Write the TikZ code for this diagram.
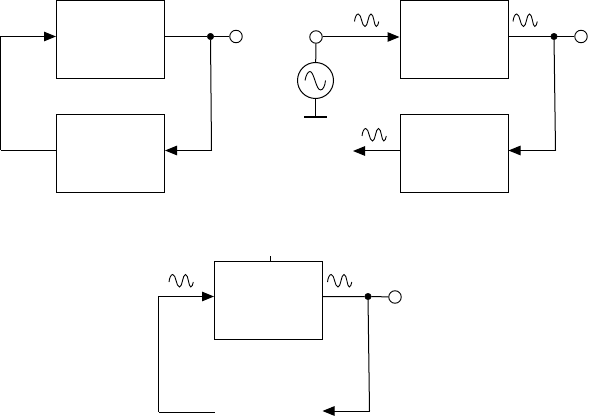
\documentclass[tikz,border=0pt]{standalone}
\usepackage{xcolor}
\usetikzlibrary{arrows.meta}

\tikzset{
    blockbox/.style={
        draw,
        line width=1pt,
        minimum width=108pt,
        minimum height=78pt,
        inner sep=0pt
    },
    wire/.style={line width=1pt},
    feed/.style={line width=1pt, -{Triangle[length=12pt,width=9.5pt]}},
    opendot/.style={draw, circle, fill=white, line width=0.9pt, minimum size=12.5pt, inner sep=0pt},
    joindot/.style={draw, circle, fill=black, minimum size=6.5pt, inner sep=0pt},
    sourcedot/.style={draw, circle, line width=1pt, minimum size=36pt, inner sep=0pt},
    wavelet/.pic={
        \draw[line width=0.9pt] (-12,1.5) .. controls (-11.5,-3) and (-10,-6) .. (-8.2,-6)
            .. controls (-5,-6) and (-4.8,6.5) .. (-1.5,6.5)
            .. controls (1.5,6.5) and (1.5,-6) .. (4.5,-6)
            .. controls (7.5,-6) and (7.5,6.5) .. (9.8,6.5)
            .. controls (11,6.5) and (11.8,4) .. (12.3,1.5);
    }
}

\begin{document}
\begin{tikzpicture}[x=1pt,y=-1pt]
    \useasboundingbox (0,0) rectangle (589,417);

    % left loop
    \node[blockbox] (ampA) at (110.5,39.5) {};
    \node[blockbox] (netA) at (110.5,153.5) {};
    \node[joindot] (dotA) at (210.5,36.5) {};
    \node[opendot] (outA) at (236,36.5) {};
    \coordinate (turnA) at (211.5,150.5);
    \coordinate (backA) at (0.5,150.5);
    \draw[wire] (outA) -- (dotA) -- (dotA -| ampA.east);
    \draw[wire] (dotA) -- (turnA);
    \draw[feed] (turnA) -- (turnA -| netA.east);
    \draw[wire] (backA -| netA.west) -- (backA);
    \draw[feed] (backA) -- (backA |- dotA) -- (dotA -| ampA.west);

    % right chain with source
    \node[blockbox] (ampB) at (454,39.5) {};
    \node[blockbox] (netB) at (454,153.5) {};
    \node[opendot] (inB) at (316,37) {};
    \node[sourcedot] (srcB) at (315.5,80.5) {};
    \node[joindot] (dotB) at (554,36.5) {};
    \node[opendot] (outB) at (581,36.5) {};
    \coordinate (gndB) at (315.5,117);
    \coordinate (turnB) at (555.5,150.5);
    \coordinate (leftB) at (353,151);
    \draw[wire] (inB) -- (srcB);
    \draw[wire] (srcB) -- (gndB);
    \draw[line width=2.5pt] ([xshift=-11.5pt]gndB) -- ([xshift=11.5pt]gndB);
    \draw[line width=0.9pt] (305,80.5) .. controls (306,75) and (308,71.5) .. (310,71.5)
        .. controls (314,71.5) and (316,90) .. (320.5,90)
        .. controls (323,90) and (325,86) .. (325.5,80.5);
    \draw[feed] (inB) -- (inB -| ampB.west);
    \draw[wire] (outB) -- (dotB) -- (dotB -| ampB.east);
    \draw[wire] (dotB) -- (turnB);
    \draw[feed] (turnB) -- (turnB -| netB.east);
    \draw[feed] (leftB -| netB.west) -- (leftB);
    \pic at (366.5,20) {wavelet};
    \pic at (525,20) {wavelet};
    \pic at (374,134.5) {wavelet};

    % bottom loop
    \node[blockbox] (ampC) at (268.5,300) {};
    \node[joindot] (dotC) at (368,296.5) {};
    \node[opendot] (outC) at (395,297) {};
    \coordinate (tickC) at (270.5,256);
    \coordinate (turnC) at (369.5,411);
    \coordinate (endC) at (322.5,411);
    \coordinate (startC) at (214.5,412);
    \coordinate (backC) at (158.5,412);
    \draw[wire] (tickC) -- (tickC |- ampC.north);
    \draw[wire] (outC) -- (dotC) -- (dotC -| ampC.east);
    \draw[wire] (dotC) -- (turnC);
    \draw[feed] (turnC) -- (endC);
    \draw[wire] (startC) -- (backC);
    \draw[feed] (backC) -- (backC |- dotC) -- (dotC -| ampC.west);
    \pic at (181,280.5) {wavelet};
    \pic at (339.5,280.5) {wavelet};
\end{tikzpicture}
\end{document}
